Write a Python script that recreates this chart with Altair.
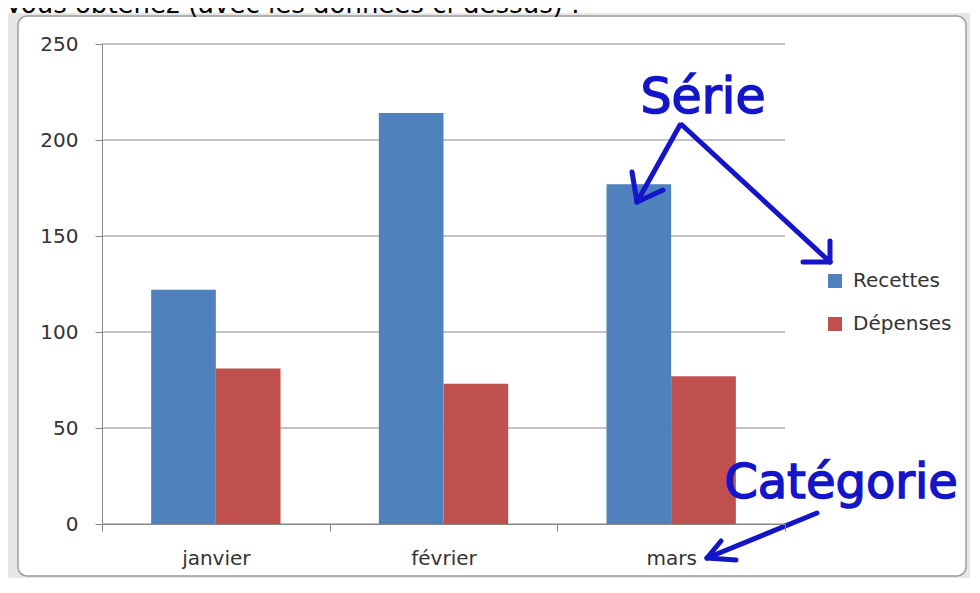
import altair as alt
import pandas as pd

# ---- data ----
months = ["janvier", "février", "mars"]
series = ["Recettes", "Dépenses"]
recettes = [122, 214, 177]
depenses = [81, 73, 77]
colors = ["#4F81BD", "#C0504D"]
y_ticks = [0, 50, 100, 150, 200, 250]

rows = []
for i, m in enumerate(months):
    rows.append({"mois": m, "serie": series[0], "valeur": recettes[i]})
    rows.append({"mois": m, "serie": series[1], "valeur": depenses[i]})
df = pd.DataFrame(rows)
grid_df = pd.DataFrame({"v": y_ticks})

W, H = 683, 480
PAD = {"left": 94, "top": 36, "right": 185, "bottom": 54}
FONT = "DejaVu Sans"
ANNOT = "#1414C8"
AXIS_GRAY = "#878787"
one = alt.Data(values=[{}])

yscale = alt.Scale(domain=[0, 250], nice=False, zero=True)
yaxis = alt.Axis(values=y_ticks, tickSize=7, tickColor=AXIS_GRAY,
                 domainColor=AXIS_GRAY, labelFont=FONT, labelFontSize=20,
                 labelColor="#333333", labelPadding=17, zindex=1, grid=False)

# decorative background (spreadsheet area) and rounded chart frame
bg = alt.Chart(one).mark_rect(fill="#e7e7e7").encode(
    x=alt.value(-94), x2=alt.value(W + PAD["right"]),
    y=alt.value(-31), y2=alt.value(H + PAD["bottom"]))
frame = alt.Chart(one).mark_rect(fill="white", stroke="#9c9c9c", strokeWidth=1.5,
                                 cornerRadius=9).encode(
    x=alt.value(-84), x2=alt.value(W + 181),
    y=alt.value(-28), y2=alt.value(H + 52))

grid = alt.Chart(grid_df).mark_rule(color=AXIS_GRAY, strokeWidth=1).encode(
    y=alt.Y("v:Q", scale=yscale, title=None, axis=yaxis))

bars = alt.Chart(df).mark_bar().encode(
    x=alt.X("mois:N", sort=months, title=None,
            scale=alt.Scale(paddingInner=0, paddingOuter=0),
            axis=alt.Axis(labelAngle=0, tickBand="extent", tickSize=7,
                          tickColor=AXIS_GRAY, domainColor=AXIS_GRAY,
                          labelFont=FONT, labelFontSize=20, labelColor="#333333",
                          labelPadding=17, zindex=1, grid=False)),
    xOffset=alt.XOffset("serie:N", sort=series,
                        scale=alt.Scale(paddingInner=0, paddingOuter=0.76)),
    y=alt.Y("valeur:Q", scale=yscale, title=None, axis=yaxis),
    color=alt.Color("serie:N", sort=series,
                    scale=alt.Scale(domain=series, range=colors),
                    legend=alt.Legend(title=None, orient="none", legendX=723, legendY=227,
                                      symbolType="square", symbolSize=196,
                                      symbolStrokeWidth=0, labelFont=FONT,
                                      labelFontSize=20, labelColor="#333333",
                                      labelOffset=8, rowPadding=23, padding=0)),
)

# annotation arrows (plot-area pixel positions)
arrow_segments = [
    (578, 81, 535, 158), (535, 158, 530, 128), (535, 158, 561, 146),
    (580, 81, 728, 218), (728, 218, 728, 197), (728, 218, 701, 218),
    (715, 469, 605, 514), (605, 514, 619, 497), (605, 514, 634, 516),
]
arrows = [
    alt.Chart(one).mark_rule(color=ANNOT, strokeWidth=5, strokeCap="round").encode(
        x=alt.value(a), y=alt.value(b), x2=alt.value(c), y2=alt.value(d))
    for (a, b, c, d) in arrow_segments
]

serie_txt = alt.Chart(one).mark_text(text="Série", font=FONT, fontSize=49, fill=ANNOT,
                                     stroke=ANNOT, strokeWidth=1.5, align="center",
                                     baseline="alphabetic").encode(
    x=alt.value(601), y=alt.value(69))
cat_txt = alt.Chart(one).mark_text(text="Catégorie", font=FONT, fontSize=48, fill=ANNOT,
                                   stroke=ANNOT, strokeWidth=1.5, align="center",
                                   baseline="alphabetic").encode(
    x=alt.value(739), y=alt.value(454))
top_txt = alt.Chart(one).mark_text(text="Vous obtenez (avec les données ci-dessus) :",
                                   font=FONT, fontSize=26, fill="black", align="left",
                                   baseline="alphabetic").encode(
    x=alt.value(-97), y=alt.value(-31))

chart = alt.layer(bg, frame, grid, bars, *arrows, serie_txt, cat_txt, top_txt).properties(
    width=W, height=H, padding=PAD,
    autosize=alt.AutoSizeParams(type="none"),
).configure_view(stroke=None)

chart.save("out.html", embed_options={"renderer": "svg", "actions": False})
